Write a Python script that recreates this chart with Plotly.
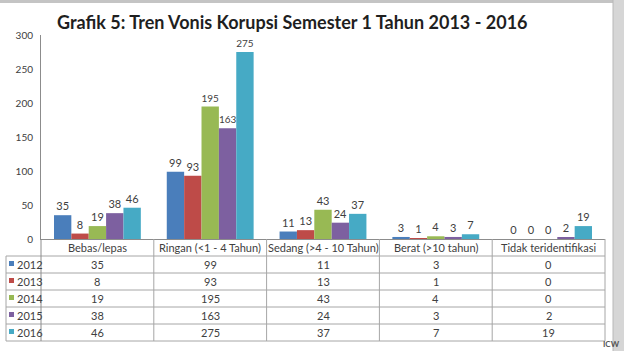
import plotly.graph_objects as go

# ---- data ----
categories = ["Bebas/lepas", "Ringan (<1 - 4 Tahun)", "Sedang (>4 - 10 Tahun)",
              "Berat (>10 tahun)", "Tidak teridentifikasi"]
years = ["2012", "2013", "2014", "2015", "2016"]
v2012 = [35, 99, 11, 3, 0]
v2013 = [8, 93, 13, 1, 0]
v2014 = [19, 195, 43, 4, 0]
v2015 = [38, 163, 24, 3, 2]
v2016 = [46, 275, 37, 7, 19]
series = [v2012, v2013, v2014, v2015, v2016]
y_ticks = [0, 50, 100, 150, 200, 250, 300]
title = "Grafik 5: Tren Vonis Korupsi Semester 1 Tahun 2013 - 2016"

colors = ["#4a7ebb", "#be4b48", "#98b954", "#7d60a0", "#46aac5"]

# ---- geometry (pixels) ----
W, H = 624, 351
L, R, T, B = 41, 605, 35, 239
FONT = "Lato, 'Open Sans', sans-serif"
TXT = "#404040"
LINE = "#a6a6a6"


def px(x):
    return (x - L) / (R - L)


def py(y):
    return (B - y) / (B - T)


fig = go.Figure()
for yr, vals, col in zip(years, series, colors):
    fig.add_trace(go.Bar(
        x=categories, y=vals, name=yr, marker=dict(color=col, line=dict(width=0)),
        text=[str(v) for v in vals], textposition="outside", cliponaxis=False,
        textfont=dict(size=11, color=TXT, family=FONT),
    ))

shapes = []
annotations = []

# table geometry
hdr_top, hdr_bot = 239, 256
row_h = 17
n_rows = len(years)
tbl_bot = hdr_bot + row_h * n_rows
tbl_left = 6
col_w = (R - L) / len(categories)


def hline(x0, x1, y, color=LINE):
    shapes.append(dict(type="line", xref="paper", yref="paper",
                       x0=px(x0), x1=px(x1), y0=py(y), y1=py(y),
                       line=dict(color=color, width=1)))


def vline(x, y0, y1, color=LINE):
    shapes.append(dict(type="line", xref="paper", yref="paper",
                       x0=px(x), x1=px(x), y0=py(y0), y1=py(y1),
                       line=dict(color=color, width=1)))


# horizontal lines
for i in range(n_rows + 1):
    hline(tbl_left, R, hdr_bot + i * row_h)
# vertical lines
vline(tbl_left, hdr_bot, tbl_bot)
vline(L, hdr_top, tbl_bot, "#8c8c8c")
for i in range(1, len(categories) + 1):
    vline(L + i * col_w, hdr_top, tbl_bot)

# header labels
for i, c in enumerate(categories):
    annotations.append(dict(xref="paper", yref="paper",
                            x=px(L + (i + 0.5) * col_w), y=py((hdr_top + hdr_bot) / 2),
                            text=c, showarrow=False, xanchor="center", yanchor="middle",
                            font=dict(size=11, color=TXT, family=FONT)))

# rows
for r, (yr, vals, col) in enumerate(zip(years, series, colors)):
    yc = hdr_bot + (r + 0.5) * row_h
    shapes.append(dict(type="rect", xref="paper", yref="paper",
                       x0=px(9), x1=px(14), y0=py(yc - 3.5), y1=py(yc + 1.5),
                       fillcolor=col, line=dict(width=0)))
    annotations.append(dict(xref="paper", yref="paper", x=px(14.5), y=py(yc),
                            text=yr, showarrow=False, xanchor="left", yanchor="middle",
                            font=dict(size=11, color=TXT, family=FONT)))
    for i, v in enumerate(vals):
        annotations.append(dict(xref="paper", yref="paper",
                                x=px(L + (i + 0.5) * col_w), y=py(yc),
                                text=str(v), showarrow=False, xanchor="center", yanchor="middle",
                                font=dict(size=11, color=TXT, family=FONT)))

# frame decorations: top grey line and right grey band
shapes.append(dict(type="rect", xref="paper", yref="paper",
                   x0=px(0), x1=px(W), y0=py(0), y1=py(3),
                   fillcolor="#c4c4c4", line=dict(width=0)))
shapes.append(dict(type="rect", xref="paper", yref="paper",
                   x0=px(613), x1=px(W), y0=py(0), y1=py(H),
                   fillcolor="#d6d6d6", line=dict(width=0)))
shapes.append(dict(type="line", xref="paper", yref="paper",
                   x0=px(613), x1=px(613), y0=py(0), y1=py(H),
                   line=dict(color="#b8b8b8", width=1)))

# title
annotations.append(dict(xref="paper", yref="paper", x=px(292), y=py(22),
                        text="<b>" + title + "</b>", showarrow=False,
                        xanchor="center", yanchor="middle",
                        font=dict(size=18, color="#1f1f1f", family=FONT)))
# watermark
annotations.append(dict(xref="paper", yref="paper", x=px(611), y=py(344),
                        text="<b>ICW</b>", showarrow=False,
                        xanchor="center", yanchor="middle",
                        font=dict(size=8, color="#555555", family=FONT)))

fig.update_layout(
    width=W, height=H,
    margin=dict(l=L, r=W - R, t=T, b=H - B, pad=0),
    paper_bgcolor="white", plot_bgcolor="white",
    barmode="group", bargap=0.23, bargroupgap=0,
    showlegend=False,
    shapes=shapes, annotations=annotations,
    font=dict(family=FONT, color=TXT),
    xaxis=dict(showticklabels=False, showline=True, linecolor="#8c8c8c",
               linewidth=1, ticks="", showgrid=False, zeroline=False),
    yaxis=dict(range=[0, 300], tickvals=y_ticks, showline=True, linecolor="#8c8c8c",
               linewidth=1, ticks="", showgrid=False, zeroline=False,
               tickfont=dict(size=10, color=TXT, family=FONT), ticklabelstandoff=5),
)

fig.write_html("out.html")
